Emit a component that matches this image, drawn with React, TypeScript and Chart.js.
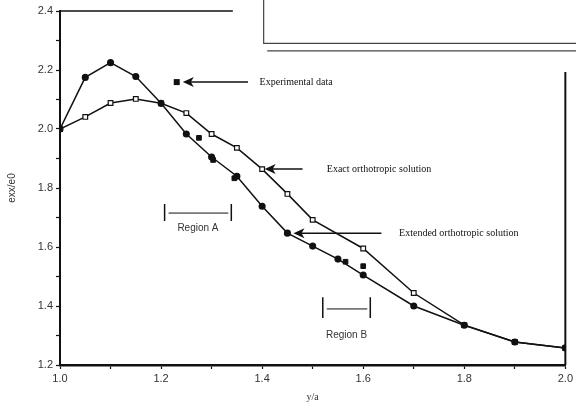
import React, { useEffect, useRef } from "react";
import { Chart, registerables } from "chart.js";

Chart.register(...registerables);

const xExtended = [1.0, 1.05, 1.1, 1.15, 1.2, 1.25, 1.3, 1.35, 1.4, 1.45, 1.5, 1.55, 1.6, 1.7, 1.8, 1.9, 2.0];
const yExtended = [2.0, 2.175, 2.225, 2.178, 2.087, 1.983, 1.905, 1.84, 1.738, 1.647, 1.603, 1.559, 1.505, 1.4, 1.335, 1.278, 1.258];

const xExact = [1.0, 1.05, 1.1, 1.15, 1.2, 1.25, 1.3, 1.35, 1.4, 1.45, 1.5, 1.6, 1.7, 1.8, 1.9, 2.0];
const yExact = [2.0, 2.041, 2.088, 2.102, 2.087, 2.054, 1.983, 1.936, 1.864, 1.78, 1.692, 1.595, 1.444, 1.335, 1.278, 1.258];

const xExperimental = [1.275, 1.303, 1.345, 1.565, 1.6];
const yExperimental = [1.97, 1.895, 1.833, 1.55, 1.535];

const xAxisTitle = "y/a";
const yAxisTitle = "exx/e0";

// annotation arrows: marker/tip position, line end, label
const arrowLabels = [
  { text: "Experimental data", tipX: 1.243, y: 2.159, endX: 1.372, textX: 1.395, marker: true },
  { text: "Exact orthotropic solution", tipX: 1.405, y: 1.864, endX: 1.48, textX: 1.528, marker: false },
  { text: "Extended orthotropic solution", tipX: 1.462, y: 1.647, endX: 1.636, textX: 1.671, marker: false },
];
const markerX = 1.231;

const regions = [
  { text: "Region A", x1: 1.207, x2: 1.339, yTop: 1.746, yBot: 1.688, yLine: 1.715, yText: 1.664 },
  { text: "Region B", x1: 1.52, x2: 1.614, yTop: 1.43, yBot: 1.359, yLine: 1.39, yText: 1.302 },
];

const annotationPlugin = {
  id: "annotations",
  afterDatasetsDraw(chart: any) {
    const { ctx, scales } = chart;
    const xs = scales.x;
    const ys = scales.y;
    const px = (v: number) => xs.getPixelForValue(v);
    const py = (v: number) => ys.getPixelForValue(v);
    ctx.save();
    ctx.strokeStyle = "#111";
    ctx.fillStyle = "#111";

    // partial top border and right border
    ctx.lineWidth = 1.5;
    ctx.beginPath();
    ctx.moveTo(px(1.0), py(2.4));
    ctx.lineTo(px(1.342), py(2.4));
    ctx.stroke();
    ctx.lineWidth = 2;
    ctx.beginPath();
    ctx.moveTo(px(2.0), py(2.193));
    ctx.lineTo(px(2.0), py(1.2));
    ctx.stroke();

    // overlapping box of neighbouring figure
    ctx.lineWidth = 1.2;
    ctx.strokeStyle = "#444";
    ctx.beginPath();
    ctx.moveTo(px(1.403), 0);
    ctx.lineTo(px(1.403), py(2.29));
    ctx.lineTo(chart.width, py(2.29));
    ctx.stroke();
    ctx.beginPath();
    ctx.moveTo(px(1.41), py(2.265));
    ctx.lineTo(chart.width, py(2.265));
    ctx.stroke();
    ctx.strokeStyle = "#111";

    // arrows
    ctx.lineWidth = 1.5;
    arrowLabels.forEach((a) => {
      const tx = px(a.tipX);
      const yy = py(a.y);
      ctx.beginPath();
      ctx.moveTo(tx + 6, yy);
      ctx.lineTo(px(a.endX), yy);
      ctx.stroke();
      ctx.beginPath();
      ctx.moveTo(tx, yy);
      ctx.lineTo(tx + 11, yy - 5);
      ctx.lineTo(tx + 8, yy);
      ctx.lineTo(tx + 11, yy + 5);
      ctx.closePath();
      ctx.fill();
      if (a.marker) {
        ctx.fillRect(px(markerX) - 3, yy - 3, 6, 6);
      }
      ctx.font = "10px 'Liberation Serif'";
      ctx.textAlign = "left";
      ctx.textBaseline = "middle";
      ctx.fillText(a.text, px(a.textX), yy);
    });

    // regions
    regions.forEach((r) => {
      ctx.lineWidth = 1.5;
      ctx.beginPath();
      ctx.moveTo(px(r.x1), py(r.yTop));
      ctx.lineTo(px(r.x1), py(r.yBot));
      ctx.moveTo(px(r.x2), py(r.yTop));
      ctx.lineTo(px(r.x2), py(r.yBot));
      ctx.stroke();
      ctx.lineWidth = 1;
      ctx.beginPath();
      ctx.moveTo(px(r.x1) + 4, py(r.yLine));
      ctx.lineTo(px(r.x2) - 3, py(r.yLine));
      ctx.stroke();
      ctx.font = "10px 'Liberation Sans'";
      ctx.fillStyle = "#333";
      ctx.textAlign = "center";
      ctx.textBaseline = "middle";
      ctx.fillText(r.text, (px(r.x1) + px(r.x2)) / 2, py(r.yText));
      ctx.fillStyle = "#111";
    });
    ctx.restore();
  },
};

export default function App() {
  const ref = useRef<HTMLCanvasElement | null>(null);
  useEffect(() => {
    document.body.style.margin = "0";
    const canvas = ref.current;
    if (!canvas) return;
    const chart = new Chart(canvas, {
      type: "line",
      data: {
        datasets: [
          {
            label: "Extended orthotropic solution",
            data: xExtended.map((x, i) => ({ x, y: yExtended[i] })),
            borderColor: "#111",
            borderWidth: 1.5,
            pointStyle: "circle",
            pointRadius: 2.8,
            pointBackgroundColor: "#111",
            pointBorderColor: "#111",
            tension: 0,
          },
          {
            label: "Exact orthotropic solution",
            data: xExact.map((x, i) => ({ x, y: yExact[i] })),
            borderColor: "#111",
            borderWidth: 1.5,
            pointStyle: "rect",
            pointRadius: 3.3,
            pointBackgroundColor: "#fff",
            pointBorderColor: "#111",
            pointBorderWidth: 1.2,
            tension: 0,
          },
          {
            label: "Experimental data",
            data: xExperimental.map((x, i) => ({ x, y: yExperimental[i] })),
            showLine: false,
            pointStyle: "rect",
            pointRadius: 3.3,
            pointBackgroundColor: "#111",
            pointBorderColor: "#111",
          },
        ],
      },
      options: {
        animation: false,
        responsive: false,
        maintainAspectRatio: false,
        layout: { padding: { top: 11, right: 5, left: 0, bottom: 0 } },
        plugins: { legend: { display: false }, tooltip: { enabled: false } },
        scales: {
          x: {
            type: "linear",
            min: 1.0,
            max: 2.0,
            grid: { display: true, drawOnChartArea: false, drawTicks: true, tickLength: 4, tickColor: "#111", tickWidth: 1.2 },
            border: { display: true, color: "#111", width: 2.5 },
            ticks: {
              stepSize: 0.1,
              autoSkip: false,
              maxRotation: 0,
              color: "#333",
              font: { family: "'Liberation Sans'", size: 11 },
              padding: 3,
              callback: (v: any) => (Math.round(Number(v) * 10) % 2 === 0 ? Number(v).toFixed(1) : ""),
            },
            title: {
              display: true,
              text: xAxisTitle,
              color: "#333",
              font: { family: "'Liberation Serif'", size: 10 },
              padding: { top: 0, bottom: 0 },
            },
            afterFit: (s: any) => {
              s.height = 38;
            },
          },
          y: {
            type: "linear",
            min: 1.2,
            max: 2.4,
            grid: { display: true, drawOnChartArea: false, drawTicks: true, tickLength: 4, tickColor: "#111", tickWidth: 1.2 },
            border: { display: true, color: "#111", width: 2 },
            ticks: {
              stepSize: 0.1,
              autoSkip: false,
              color: "#333",
              font: { family: "'Liberation Sans'", size: 11 },
              padding: 3,
              callback: (v: any) => (Math.round(Number(v) * 10) % 2 === 0 ? Number(v).toFixed(1) : ""),
            },
            title: {
              display: true,
              text: yAxisTitle,
              color: "#333",
              font: { family: "'Liberation Sans'", size: 10 },
              padding: { top: 6, bottom: 4 },
            },
            afterFit: (s: any) => {
              s.width = 60;
            },
          },
        },
      },
      plugins: [annotationPlugin],
    });
    return () => chart.destroy();
  }, []);
  return (
    <div style={{ position: "absolute", left: 0, top: 0, width: 576, height: 403, background: "#fff" }}>
      <canvas ref={ref} width={576} height={403} style={{ width: 576, height: 403 }} />
    </div>
  );
}
